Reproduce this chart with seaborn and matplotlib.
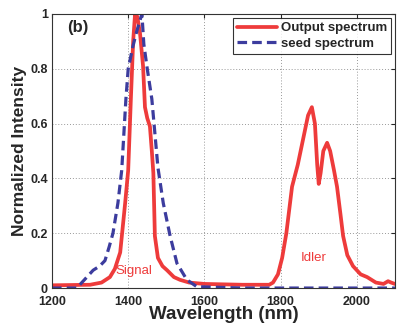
import numpy as np
import pandas as pd
import matplotlib
matplotlib.use('Agg')
from matplotlib import pyplot as plt
import seaborn as sns

# output spectrum (red, solid)
out_wl = [1200, 1300, 1330, 1352, 1365, 1379, 1392, 1400, 1407, 1413, 1418, 1424, 1431,
          1439, 1444, 1450, 1457, 1462, 1466, 1470, 1478, 1490, 1502, 1520, 1536, 1560,
          1600, 1700, 1770, 1780, 1793, 1804, 1815, 1830, 1845, 1860, 1872, 1882, 1890,
          1896, 1900, 1905, 1912, 1922, 1930, 1940, 1948, 1957, 1964, 1975, 1990, 2010,
          2027, 2050, 2070, 2082, 2090, 2100]
out_int = [0.01, 0.012, 0.02, 0.04, 0.07, 0.13, 0.31, 0.43, 0.69, 0.9, 1.0, 0.99, 0.93,
           0.81, 0.66, 0.62, 0.59, 0.5, 0.42, 0.19, 0.11, 0.08, 0.065, 0.04, 0.03, 0.02,
           0.015, 0.012, 0.012, 0.02, 0.05, 0.11, 0.2, 0.37, 0.45, 0.55, 0.63, 0.66, 0.6,
           0.45, 0.38, 0.42, 0.5, 0.53, 0.5, 0.43, 0.37, 0.27, 0.19, 0.12, 0.08, 0.05,
           0.04, 0.02, 0.015, 0.025, 0.02, 0.015]

# seed spectrum (blue, dashed)
seed_wl = [1200, 1265, 1285, 1308, 1325, 1339, 1350, 1360, 1373, 1383, 1394, 1400, 1412,
           1423, 1436, 1441, 1450, 1462, 1478, 1492, 1510, 1528, 1554, 1580, 1700, 2100]
seed_int = [0.0, 0.0, 0.03, 0.065, 0.08, 0.1, 0.15, 0.2, 0.31, 0.43, 0.69, 0.8, 0.88,
            0.94, 1.0, 0.89, 0.8, 0.69, 0.44, 0.31, 0.19, 0.09, 0.03, 0.005, 0.0, 0.0]

xticks = [1200, 1400, 1600, 1800, 2000]
yticks = [0, 0.2, 0.4, 0.6, 0.8, 1]

sns.set_style('white')
plt.rcParams['font.family'] = ['Liberation Sans', 'DejaVu Sans']

RED = '#ee3b3b'
BLUE = '#3c3c9e'

fig, ax = plt.subplots(figsize=(4.03, 3.33), dpi=100)
fig.subplots_adjust(left=0.129, right=0.980, top=0.958, bottom=0.135)

out_df = pd.DataFrame({'wl': out_wl, 'I': out_int})
seed_df = pd.DataFrame({'wl': seed_wl, 'I': seed_int})

sns.lineplot(data=out_df, x='wl', y='I', ax=ax, color=RED, lw=2.7,
             label='Output spectrum')
sns.lineplot(data=seed_df, x='wl', y='I', ax=ax, color=BLUE, lw=2.3,
             linestyle=(0, (3, 1.6)), label='seed spectrum')

ax.set_xlim(1200, 2100)
ax.set_ylim(0, 1)
ax.set_xticks(xticks)
ax.set_yticks(yticks)
ax.set_yticklabels(['0', '0.2', '0.4', '0.6', '0.8', '1'])
ax.tick_params(direction='in', top=True, right=True, length=3, labelsize=9)
ax.tick_params(axis='x', pad=5.5)
ax.tick_params(axis='y', pad=3)
for tl in ax.get_xticklabels() + ax.get_yticklabels():
    tl.set_fontweight('bold')
ax.grid(True, color='#999999', linestyle=(0, (1, 2)), lw=0.7)
for s in ax.spines.values():
    s.set_color('#333333')
    s.set_linewidth(0.8)

ax.set_xlabel('Wavelength (nm)', fontsize=13.5, fontweight='bold', labelpad=-1)
ax.set_ylabel('Normalized Intensity', fontsize=12.5, fontweight='bold', labelpad=2)

ax.text(1240, 0.935, '(b)', fontsize=12, fontweight='bold')
ax.text(1366, 0.05, 'Signal', fontsize=9.5, color=RED)
ax.text(1853, 0.1, 'Idler', fontsize=9.5, color=RED)

leg = ax.legend(loc='upper right', frameon=True, fancybox=False, fontsize=9.5,
                borderpad=0.3, handlelength=3.0, labelspacing=0.25, handletextpad=0.3,
                borderaxespad=0.3)
leg.get_frame().set_edgecolor('black')
leg.get_frame().set_linewidth(0.8)
for t in leg.get_texts():
    t.set_fontweight('bold')

plt.savefig('out.png', dpi=100)
